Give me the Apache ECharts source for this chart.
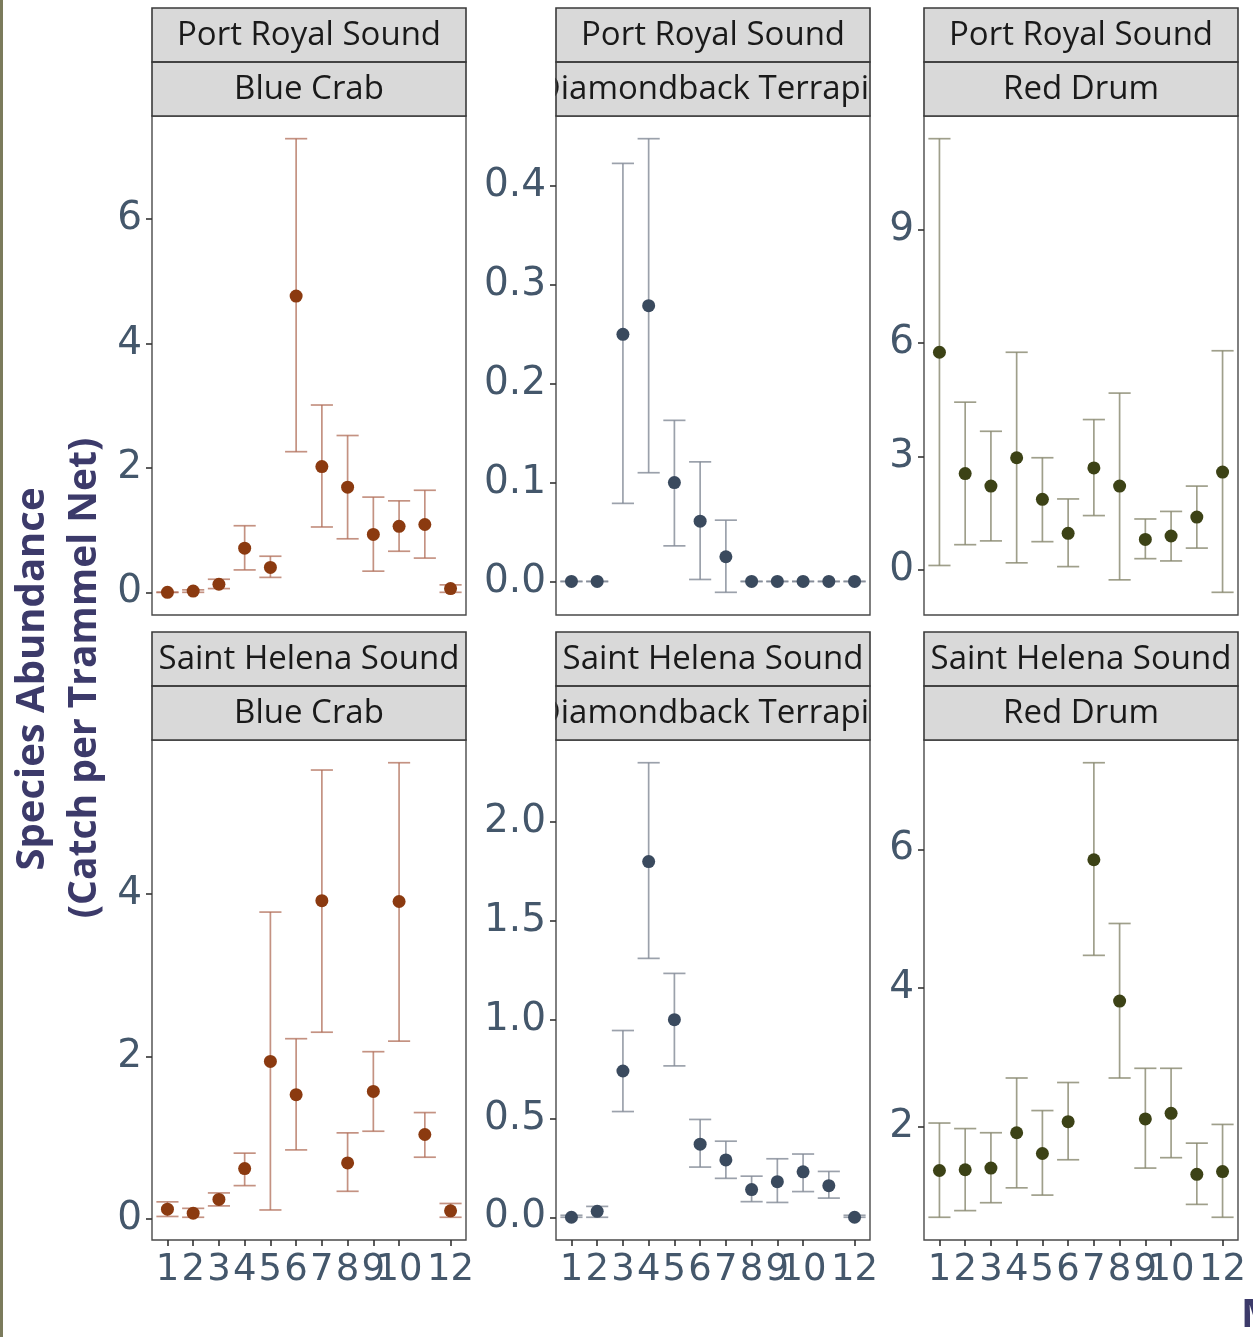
<!DOCTYPE html>
<html>
<head>
<meta charset="utf-8">
<script src="https://cdn.jsdelivr.net/npm/echarts@6/dist/echarts.min.js"></script>
<style>
  html, body { margin: 0; padding: 0; background: #ffffff; }
  #chart { width: 1253px; height: 1337px; }
</style>
</head>
<body>
<div id="chart"></div>
<script>
// Monthly catch per trammel net (mean with error bar limits), by sound and species
const months = [1, 2, 3, 4, 5, 6, 7, 8, 9, 10, 11, 12];

const locations = ['Port Royal Sound', 'Saint Helena Sound'];
const species = ['Blue Crab', 'Diamondback Terrapin', 'Red Drum'];

// Port Royal Sound
const prCrabMean = [0.00, 0.02, 0.13, 0.71, 0.40, 4.76, 2.02, 1.69, 0.93, 1.06, 1.09, 0.06];
const prCrabLow  = [0.00, 0.00, 0.06, 0.36, 0.24, 2.26, 1.05, 0.86, 0.34, 0.66, 0.55, 0.00];
const prCrabHigh = [0.00, 0.04, 0.21, 1.07, 0.58, 7.29, 3.01, 2.52, 1.53, 1.47, 1.64, 0.12];

const prTerrMean = [0, 0, 0.250, 0.279, 0.100, 0.061, 0.025, 0, 0, 0, 0, 0];
const prTerrLow  = [0, 0, 0.079, 0.110, 0.036, 0.002, -0.011, 0, 0, 0, 0, 0];
const prTerrHigh = [0, 0, 0.423, 0.448, 0.163, 0.121, 0.062, 0, 0, 0, 0, 0];

const prDrumMean = [5.76, 2.55, 2.22, 2.97, 1.87, 0.97, 2.70, 2.22, 0.81, 0.90, 1.40, 2.59];
const prDrumLow  = [0.12, 0.67, 0.77, 0.19, 0.75, 0.09, 1.44, -0.26, 0.30, 0.24, 0.58, -0.59];
const prDrumHigh = [11.41, 4.44, 3.67, 5.76, 2.97, 1.88, 3.98, 4.68, 1.35, 1.55, 2.22, 5.80];

// Saint Helena Sound
const shCrabMean = [0.12, 0.07, 0.24, 0.62, 1.94, 1.53, 3.92, 0.69, 1.57, 3.91, 1.04, 0.10];
const shCrabLow  = [0.03, 0.02, 0.16, 0.41, 0.11, 0.85, 2.30, 0.34, 1.08, 2.19, 0.76, 0.02];
const shCrabHigh = [0.21, 0.13, 0.32, 0.81, 3.78, 2.22, 5.53, 1.06, 2.06, 5.62, 1.31, 0.19];

const shTerrMean = [0.00, 0.03, 0.74, 1.80, 1.00, 0.37, 0.29, 0.14, 0.18, 0.23, 0.16, 0.00];
const shTerrLow  = [0.00, 0.00, 0.535, 1.31, 0.766, 0.254, 0.197, 0.079, 0.075, 0.13, 0.097, 0.00];
const shTerrHigh = [0.01, 0.055, 0.945, 2.30, 1.234, 0.495, 0.385, 0.208, 0.296, 0.32, 0.232, 0.01];

const shDrumMean = [1.365, 1.376, 1.40, 1.91, 1.61, 2.07, 5.85, 3.81, 2.11, 2.19, 1.31, 1.35];
const shDrumLow  = [0.69, 0.786, 0.90, 1.115, 1.01, 1.52, 4.47, 2.70, 1.40, 1.55, 0.876, 0.69];
const shDrumHigh = [2.05, 1.97, 1.91, 2.70, 2.23, 2.635, 7.25, 4.93, 2.84, 2.84, 1.76, 2.03];

// y tick labels per panel
const prCrabTicks = [0, 2, 4, 6];
const prTerrTicks = [0, 0.1, 0.2, 0.3, 0.4];
const prDrumTicks = [0, 3, 6, 9];
const shCrabTicks = [0, 2, 4];
const shTerrTicks = [0, 0.5, 1.0, 1.5, 2.0];
const shDrumTicks = [2, 4, 6];

const yTitleLines = ['Species Abundance', '(Catch per Trammel Net)'];
const xTitle = 'Month';

// ---- styling / layout ----
const speciesPoint = ['#8b3a10', '#3a4a5e', '#3c4216'];
const speciesBar = ['rgba(176,110,88,0.75)', 'rgba(130,138,150,0.8)', 'rgba(135,135,110,0.8)'];
const tickColor = '#44576b';
const titleColor = '#3c3a6a';
const colLeft = [152, 556, 924];
const panelW = 314;
const rowTop = [116, 740];
const panelH = [499, 500];
const stripH = 54;

const panels = [
  { row: 0, col: 0, mean: prCrabMean, low: prCrabLow, high: prCrabHigh, ticks: prCrabTicks, dec: 0 },
  { row: 0, col: 1, mean: prTerrMean, low: prTerrLow, high: prTerrHigh, ticks: prTerrTicks, dec: 1 },
  { row: 0, col: 2, mean: prDrumMean, low: prDrumLow, high: prDrumHigh, ticks: prDrumTicks, dec: 0 },
  { row: 1, col: 0, mean: shCrabMean, low: shCrabLow, high: shCrabHigh, ticks: shCrabTicks, dec: 0 },
  { row: 1, col: 1, mean: shTerrMean, low: shTerrLow, high: shTerrHigh, ticks: shTerrTicks, dec: 1 },
  { row: 1, col: 2, mean: shDrumMean, low: shDrumLow, high: shDrumHigh, ticks: shDrumTicks, dec: 0 }
];

// continuous scale with 5% padding either side of the data extent
function paddedRange(low, high) {
  const lo = Math.min.apply(null, low);
  const hi = Math.max.apply(null, high);
  const pad = (hi - lo) * 0.05;
  return [lo - pad, hi + pad];
}

const grid = [], xAxis = [], yAxis = [], series = [], graphic = [];

panels.forEach((p, i) => {
  const [ymin, ymax] = paddedRange(p.low, p.high);
  grid.push({
    left: colLeft[p.col], top: rowTop[p.row], width: panelW, height: panelH[p.row],
    show: true, backgroundColor: '#ffffff', borderColor: '#4a4a4a', borderWidth: 1.4
  });
  const bottomRow = p.row === 1;
  xAxis.push({
    gridIndex: i, type: 'value', min: 0.4, max: 12.6, position: 'bottom',
    axisLine: { show: false, onZero: false }, splitLine: { show: false },
    axisTick: { show: bottomRow, customValues: months, length: 6, lineStyle: { color: '#333', width: 1.6 } },
    axisLabel: {
      show: bottomRow, customValues: months, margin: 12, hideOverlap: false,
      showMinLabel: true, showMaxLabel: true,
      color: tickColor, fontSize: 37, fontFamily: 'DejaVu Sans'
    }
  });
  yAxis.push({
    gridIndex: i, type: 'value', min: ymin, max: ymax, position: 'left',
    axisLine: { show: false, onZero: false }, splitLine: { show: false },
    axisTick: { show: true, customValues: p.ticks, length: 6, lineStyle: { color: '#333', width: 1.6 } },
    axisLabel: {
      customValues: p.ticks, margin: 10, showMinLabel: true, showMaxLabel: true,
      color: tickColor, fontSize: 39, fontFamily: 'DejaVu Sans',
      formatter: v => Number(v).toFixed(p.dec)
    }
  });
  const barColor = speciesBar[p.col];
  series.push({
    type: 'custom', xAxisIndex: i, yAxisIndex: i, z: 2,
    data: months.map((m, k) => [m, p.low[k], p.high[k]]),
    renderItem: (params, api) => {
      const x = api.value(0);
      const a = api.coord([x, api.value(1)]);
      const b = api.coord([x, api.value(2)]);
      const capL = api.coord([x - 0.43, api.value(1)])[0];
      const capR = api.coord([x + 0.43, api.value(1)])[0];
      const st = { stroke: barColor, lineWidth: 1.7 };
      return {
        type: 'group',
        children: [
          { type: 'line', shape: { x1: a[0], y1: a[1], x2: b[0], y2: b[1] }, style: st },
          { type: 'line', shape: { x1: capL, y1: a[1], x2: capR, y2: a[1] }, style: st },
          { type: 'line', shape: { x1: capL, y1: b[1], x2: capR, y2: b[1] }, style: st }
        ]
      };
    }
  });
  series.push({
    type: 'scatter', xAxisIndex: i, yAxisIndex: i, z: 3,
    symbol: 'circle', symbolSize: 13,
    itemStyle: { color: speciesPoint[p.col], opacity: 1 },
    data: months.map((m, k) => [m, p.mean[k]])
  });

  // facet strips: location on top, species beneath
  const sx = colLeft[p.col];
  const sTop = rowTop[p.row] - 2 * stripH;
  [locations[p.row], species[p.col]].forEach((label, j) => {
    const y0 = sTop + j * stripH;
    graphic.push({
      type: 'rect', z: 10, shape: { x: sx, y: y0, width: panelW, height: stripH },
      style: { fill: '#d9d9d9', stroke: null }
    });
    graphic.push({
      type: 'text', z: 11, x: sx + panelW / 2, y: y0 + stripH / 2 + 1,
      style: {
        text: label, fill: '#1a1a1a', fontSize: 33, fontFamily: 'Open Sans',
        align: 'center', verticalAlign: 'middle'
      }
    });
    // strip labels wider than the panel are cut at its edges
    graphic.push({
      type: 'rect', z: 12, shape: { x: sx - 40, y: y0 + 1, width: 39.2, height: stripH - 2 },
      style: { fill: '#ffffff' }
    });
    graphic.push({
      type: 'rect', z: 12, shape: { x: sx + panelW + 0.8, y: y0 + 1, width: 40, height: stripH - 2 },
      style: { fill: '#ffffff' }
    });
    graphic.push({
      type: 'rect', z: 13, shape: { x: sx, y: y0, width: panelW, height: stripH },
      style: { fill: null, stroke: '#3a3a3a', lineWidth: 1.6 }
    });
  });
});

// shared axis titles
graphic.push({
  type: 'text', z: 20, x: 33, y: 679, rotation: Math.PI / 2,
  style: {
    text: yTitleLines[0], fill: titleColor, fontSize: 40, fontWeight: 'bold',
    fontFamily: 'Open Sans', align: 'center', verticalAlign: 'middle'
  }
});
graphic.push({
  type: 'text', z: 20, x: 85, y: 678, rotation: Math.PI / 2,
  style: {
    text: yTitleLines[1], fill: titleColor, fontSize: 39, fontWeight: 'bold',
    fontFamily: 'Open Sans', align: 'center', verticalAlign: 'middle'
  }
});
graphic.push({
  type: 'text', z: 20, x: 1241, y: 1296,
  style: {
    text: xTitle, fill: titleColor, fontSize: 40, fontWeight: 'bold',
    fontFamily: 'Open Sans', align: 'left', verticalAlign: 'top'
  }
});
// frame edge on the left
graphic.push({
  type: 'rect', z: 20, shape: { x: 0, y: 0, width: 3, height: 1337 },
  style: { fill: '#7b7b5c' }
});

const chart = echarts.init(document.getElementById('chart'), null, { renderer: 'canvas' });
chart.setOption({
  backgroundColor: '#ffffff',
  animation: false,
  grid, xAxis, yAxis, series, graphic
});
</script>
</body>
</html>
